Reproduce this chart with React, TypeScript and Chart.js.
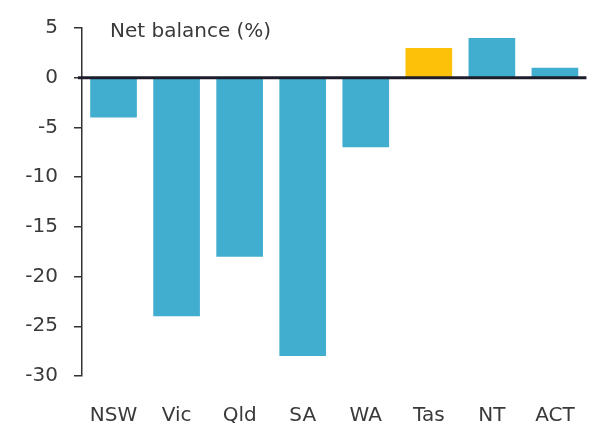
import React, { useEffect, useRef } from "react";
import { Chart, registerables } from "chart.js";

Chart.register(...registerables);

const categories = ["NSW", "Vic", "Qld", "SA", "WA", "Tas", "NT", "ACT"];
const netBalance = [-4, -24, -18, -28, -7, 3, 4, 1];
const barColors = ["#42aecf", "#42aecf", "#42aecf", "#42aecf", "#42aecf", "#fdc10a", "#42aecf", "#42aecf"];
const yTicks = [5, 0, -5, -10, -15, -20, -25, -30];
const titleText = "Net balance (%)";

const FONT = "'DejaVu Sans', sans-serif";

export default function App() {
  const ref = useRef<HTMLCanvasElement | null>(null);
  useEffect(() => {
    document.body.style.margin = "0";
    const zeroLine = {
      id: "zeroLine",
      afterDatasetsDraw(chart: any) {
        const { ctx, chartArea, scales } = chart;
        const y = scales.y.getPixelForValue(0);
        ctx.save();
        ctx.strokeStyle = "#1c1c2a";
        ctx.lineWidth = 3;
        ctx.beginPath();
        ctx.moveTo(chartArea.left - 4, y);
        ctx.lineTo(chartArea.right, y);
        ctx.stroke();
        ctx.fillStyle = "#3a3a3a";
        ctx.font = `20px ${FONT}`;
        ctx.textBaseline = "middle";
        ctx.fillText(titleText, chartArea.left + 28, chartArea.top + 4);
        ctx.restore();
      },
    };
    const chart = new Chart(ref.current!, {
      type: "bar",
      data: {
        labels: categories,
        datasets: [
          {
            data: netBalance,
            backgroundColor: barColors,
            borderWidth: 0,
            categoryPercentage: 1,
            barPercentage: 0.74,
          },
        ],
      },
      options: {
        animation: false,
        responsive: false,
        layout: { padding: { top: 23, right: 5, left: 0, bottom: 0 } },
        plugins: { legend: { display: false }, tooltip: { enabled: false } },
        scales: {
          x: {
            grid: { display: false },
            border: { display: false },
            ticks: { color: "#3a3a3a", font: { family: FONT, size: 20 }, padding: 20 },
            afterFit: (s: any) => { s.height = 47; },
          },
          y: {
            min: -30,
            max: 5,
            afterBuildTicks: (s: any) => { s.ticks = yTicks.map((v) => ({ value: v })); },
            grid: { drawOnChartArea: false, tickLength: 8, tickColor: "#333", lineWidth: 1.5 },
            border: { display: true, color: "#333", width: 1.5 },
            ticks: { color: "#3a3a3a", font: { family: FONT, size: 20 }, padding: 16 },
            afterFit: (s: any) => { s.width = 82; },
          },
        },
      },
      plugins: [zeroLine],
    });
    return () => chart.destroy();
  }, []);
  return (
    <div style={{ position: "absolute", left: 0, top: 0, width: 595, height: 423, background: "#fff" }}>
      <canvas ref={ref} width={595} height={423} />
    </div>
  );
}
